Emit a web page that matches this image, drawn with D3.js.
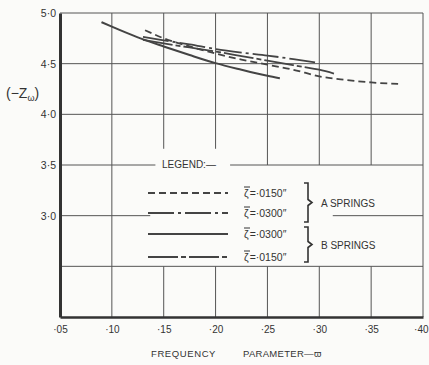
<!DOCTYPE html>
<html>
<head>
<meta charset="utf-8">
<script src="https://cdn.jsdelivr.net/npm/d3@7"></script>
<style>
body { margin: 0; background: #fbfbf9; }
svg text { font-family: "Liberation Sans", Arial, sans-serif; fill: #333; }
</style>
</head>
<body>
<div id="chart"></div>
<script>

// Axis ticks.
const freqTicks = [0.05, 0.10, 0.15, 0.20, 0.25, 0.30, 0.35, 0.40];
const zTicks = [3.0, 3.5, 4.0, 4.5, 5.0];
const zGrid = [2.5, 3.0, 3.5, 4.0, 4.5];

// Curves: [frequency parameter, -Z]
const aSprings0150 = [[0.132, 4.83], [0.15, 4.75], [0.175, 4.67], [0.20, 4.60], [0.225, 4.54],
	[0.25, 4.49], [0.275, 4.44], [0.30, 4.375], [0.325, 4.34], [0.35, 4.315], [0.376, 4.30]];
const aSprings0300 = [[0.130, 4.765], [0.15, 4.73], [0.175, 4.69], [0.20, 4.645], [0.225, 4.61],
	[0.25, 4.58], [0.275, 4.545], [0.298, 4.51]];
const bSprings0300 = [[0.09, 4.91], [0.10, 4.865], [0.125, 4.76], [0.15, 4.67], [0.175, 4.585],
	[0.20, 4.505], [0.225, 4.44], [0.25, 4.38], [0.262, 4.355]];
const bSprings0150 = [[0.130, 4.735], [0.15, 4.70], [0.175, 4.66], [0.20, 4.62], [0.225, 4.575],
	[0.25, 4.53], [0.275, 4.485], [0.30, 4.44], [0.315, 4.40]];

// Legend entries, in drawing order.
const legendValues = ["·0150", "·0300", "·0300", "·0150"];
const springGroups = ["A SPRINGS", "B SPRINGS"];


// Dimensions of chart.
let margin = { top: 13, right: 6, bottom: 48, left: 60 },
	width = 429 - margin.left - margin.right,
	height = 365 - margin.top - margin.bottom;

let svg = d3.select("#chart").append("svg")
	.attr("width", width + margin.left + margin.right)
	.attr("height", height + margin.top + margin.bottom);

let g = svg.append("g")
	.attr("transform", "translate(" + margin.left + "," + margin.top + ")");


// Scales
let x = d3.scaleLinear()
	.domain([0.05, 0.40])
	.range([0, width]);

let y = d3.scaleLinear()
	.domain([2.0, 5.0])
	.range([height, 0]);


// Grid: some lines are broken where the legend sits
const gridColor = "#555";

// vertical lines, pieces given as [top z, bottom z]
let vPieces = [];
freqTicks.slice(1).forEach(f => {
	if (f == 0.10 || f == 0.40) vPieces.push({ f: f, z0: 5.0, z1: 2.0 });
	else if (f <= 0.20) {
		vPieces.push({ f: f, z0: 5.0, z1: 3.66 });
		vPieces.push({ f: f, z0: 2.5, z1: 2.0 });
	} else {
		vPieces.push({ f: f, z0: 5.0, z1: 3.5 });
		vPieces.push({ f: f, z0: 2.5, z1: 2.0 });
	}
});
g.append("g").selectAll("line")
	.data(vPieces)
	.join("line")
	.attr("x1", d => x(d.f)).attr("x2", d => x(d.f))
	.attr("y1", d => y(d.z0)).attr("y2", d => y(d.z1))
	.attr("stroke", gridColor).attr("stroke-width", 1);

// horizontal lines, pieces given as [left f, right f]
let hPieces = [];
zGrid.concat([5.0]).forEach(z => {
	if (z == 3.5) {
		hPieces.push({ z: z, f0: 0.05, f1: 0.142 });
		hPieces.push({ z: z, f0: 0.214, f1: 0.40 });
	} else if (z == 3.0) {
		hPieces.push({ z: z, f0: 0.05, f1: 0.137 });
		hPieces.push({ z: z, f0: 0.313, f1: 0.40 });
	} else {
		hPieces.push({ z: z, f0: 0.05, f1: 0.40 });
	}
});
g.append("g").selectAll("line")
	.data(hPieces)
	.join("line")
	.attr("x1", d => x(d.f0)).attr("x2", d => x(d.f1))
	.attr("y1", d => y(d.z)).attr("y2", d => y(d.z))
	.attr("stroke", gridColor).attr("stroke-width", 1);


// Axes (heavy left and bottom lines)
let yAxis = d3.axisLeft(y)
	.tickValues(zTicks)
	.tickSize(0)
	.tickPadding(4)
	.tickFormat(d => d3.format(".1f")(d).replace(".", "·"));
let yAxisEl = g.append("g").call(yAxis);
yAxisEl.select(".domain").attr("stroke", "#333").attr("stroke-width", 3);
yAxisEl.selectAll("text").style("font-size", "10.5px").attr("fill", "#333");

let xAxis = d3.axisBottom(x)
	.tickValues(freqTicks)
	.tickSize(0)
	.tickPadding(9)
	.tickFormat(d => "·" + d3.format(".2f")(d).slice(2));
let xAxisEl = g.append("g")
	.attr("transform", "translate(0," + height + ")")
	.call(xAxis);
xAxisEl.select(".domain").attr("stroke", "#333").attr("stroke-width", 2.5);
xAxisEl.selectAll("text").style("font-size", "10px").attr("fill", "#333");
// last label sits against the page edge
xAxisEl.selectAll(".tick").filter(d => d == 0.40).select("text")
	.attr("text-anchor", "end").attr("x", 5);


// Axis titles
let yt = svg.append("text")
	.attr("x", 6).attr("y", 98)
	.style("font-size", "14px");
yt.append("tspan").text("(−Z");
yt.append("tspan").attr("dy", 3).style("font-size", "9px").text("ω");
yt.append("tspan").attr("dy", -3).text(")");

svg.append("text")
	.attr("x", 151).attr("y", 357)
	.style("font-size", "9.5px")
	.style("letter-spacing", "0.6px")
	.text("FREQUENCY");
svg.append("text")
	.attr("x", 243).attr("y", 357)
	.style("font-size", "9.5px")
	.style("letter-spacing", "0.3px")
	.text("PARAMETER—ϖ");


// Curves
const series = [
	{ pts: aSprings0150, dash: "7,4", w: 1.8 },
	{ pts: aSprings0300, dash: "26,4,3,4", w: 1.8 },
	{ pts: bSprings0300, dash: null, w: 2 },
	{ pts: bSprings0150, dash: "30,3,5,3", w: 1.8 }
];

let line = d3.line()
	.x(d => x(d[0]))
	.y(d => y(d[1]))
	.curve(d3.curveMonotoneX);

g.append("g").selectAll("path")
	.data(series)
	.join("path")
	.attr("d", d => line(d.pts))
	.attr("fill", "none")
	.attr("stroke", "#444")
	.attr("stroke-width", d => d.w)
	.attr("stroke-dasharray", d => d.dash);


// Legend
let legend = svg.append("g");
legend.append("text")
	.attr("x", 162).attr("y", 168)
	.style("font-size", "10px")
	.text("LEGEND:—");

const legRows = [193, 213, 234, 257];
legend.selectAll("line.leg")
	.data(series)
	.join("line")
	.attr("class", "leg")
	.attr("x1", 148).attr("x2", 228)
	.attr("y1", (d, i) => legRows[i]).attr("y2", (d, i) => legRows[i])
	.attr("stroke", "#444")
	.attr("stroke-width", d => d.w)
	.attr("stroke-dasharray", d => d.dash);

let legText = legend.selectAll("text.legval")
	.data(legendValues)
	.join("text")
	.attr("class", "legval")
	.attr("x", 244)
	.attr("y", (d, i) => legRows[i] + 4)
	.style("font-size", "10.5px");
legText.append("tspan").text("ζ");
legText.append("tspan").attr("dx", 1).text(d => "=" + d + "″");

// bar over the zeta
legend.selectAll("line.bar")
	.data(legendValues)
	.join("line")
	.attr("class", "bar")
	.attr("x1", 244).attr("x2", 250)
	.attr("y1", (d, i) => legRows[i] - 6).attr("y2", (d, i) => legRows[i] - 6)
	.attr("stroke", "#333").attr("stroke-width", 1);

// brackets
function brace(bx, y1, y2) {
	let ym = (y1 + y2) / 2;
	return "M" + (bx - 4) + "," + y1 + " L" + bx + "," + y1 + " L" + bx + "," + (ym - 3)
		+ " L" + (bx + 4) + "," + ym + " L" + bx + "," + (ym + 3)
		+ " L" + bx + "," + y2 + " L" + (bx - 4) + "," + y2;
}
const braces = [[183, 222], [227, 262]];
legend.selectAll("path.brace")
	.data(braces)
	.join("path")
	.attr("class", "brace")
	.attr("d", d => brace(308, d[0], d[1]))
	.attr("fill", "none")
	.attr("stroke", "#333")
	.attr("stroke-width", 1.6);

legend.selectAll("text.grp")
	.data(springGroups)
	.join("text")
	.attr("class", "grp")
	.attr("x", 321)
	.attr("y", (d, i) => (braces[i][0] + braces[i][1]) / 2 + 4)
	.style("font-size", "10px")
	.text(d => d);

</script>
</body>
</html>
